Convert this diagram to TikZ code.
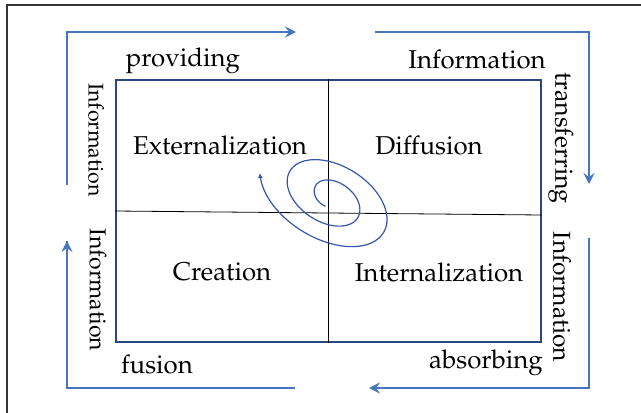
\documentclass[tikz,border=0pt]{standalone}
\usepackage[T1]{fontenc}
\renewcommand{\rmdefault}{ppl}
\usetikzlibrary{arrows.meta}
\definecolor{flowblue}{RGB}{72,118,190}
\definecolor{boxblue}{RGB}{40,70,130}
\definecolor{spiralblue}{RGB}{55,85,170}
\begin{document}
\begin{tikzpicture}[x=1pt,y=-1pt,
  lbl/.style={font=\fontsize{25.8}{28}\selectfont, inner sep=0pt},
  vlbl/.style={inner sep=0pt, rotate=-90},
  flow/.style={draw=flowblue, line width=1.8pt, -{Stealth[length=11pt,width=11pt,inset=4pt]}},
  flowplain/.style={draw=flowblue, line width=1.8pt},
  quadline/.style={draw=black, line width=0.8pt}]
\useasboundingbox (0,0) rectangle (641,413);
% outer frame
\draw[line width=1.2pt, black!80] (7,413) -- (7,5) -- (641,5);
% main box
\node[draw=boxblue, line width=2.4pt, inner sep=0pt, minimum width=425pt, minimum height=262pt] (box) at (328.5,211) {};
\draw[quadline] (box.north -| 328,0) coordinate (vt) -- (box.south -| 328,0) coordinate (vb);
\draw[quadline] (box.west |- 0,211) coordinate (hl) -- (box.east |- 0,215) coordinate (hr);
% flow arrows
\coordinate (a1s) at (67,185); \coordinate (a1c) at (67,32); \coordinate (a1e) at (296,32);
\coordinate (a2s) at (375,32); \coordinate (a2c) at (589,32); \coordinate (a2e) at (589,184);
\coordinate (a3s) at (589,238); \coordinate (a3c) at (589,388); \coordinate (a3e) at (369,388);
\coordinate (a4s) at (295,388); \coordinate (a4c) at (67,388); \coordinate (a4e) at (67,241);
\draw[flow] (a1s) -- (a1c) -- (a1e);
\draw[flow] (a2s) -- (a2c) -- (a2e);
\draw[flow] (a3s) -- (a3c) -- (a3e);
\draw[flowplain] (a4s) -- (a4c) -- (a4e);
\draw[flow] (a4c) -- (a4e);
% labels
\node[lbl] (providing) at (183,61) {providing};
\node[lbl] (infotop) at (477,59) {Information};
\node[vlbl, font=\fontsize{21.3}{24}\selectfont] (infol1) at (96,140) {Information};
\node[vlbl, font=\fontsize{23}{26}\selectfont] (infol2) at (98,290) {Information};
\node[vlbl, font=\fontsize{25}{28}\selectfont] (transf) at (561,138) {transferring};
\node[vlbl, font=\fontsize{24.5}{27}\selectfont] (infor2) at (562,297) {Information};
\node[lbl] (fusion) at (157,364) {fusion};
\node[lbl] (absorbing) at (486,363) {absorbing};
\node[lbl] (ext) at (220,145) {Externalization};
\node[lbl] (diff) at (429,145) {Diffusion};
\node[lbl] (crea) at (222,272) {Creation};
\node[lbl] (intern) at (439,272) {Internalization};
% spiral
\draw[spiralblue, line width=1.2pt, -{Latex[length=5pt,width=5pt]}]
  plot[domain=90:883, samples=260, smooth, variable=\t]
  ({330.3 + (18.25+0.0828*(\t-180))*cos(\t)*0.87 - (13.5+0.046*(\t-180))*sin(\t)*0.5},
   {198 + (18.25+0.0828*(\t-180))*cos(\t)*0.5 + (13.5+0.046*(\t-180))*sin(\t)*0.87});
\end{tikzpicture}
\end{document}
